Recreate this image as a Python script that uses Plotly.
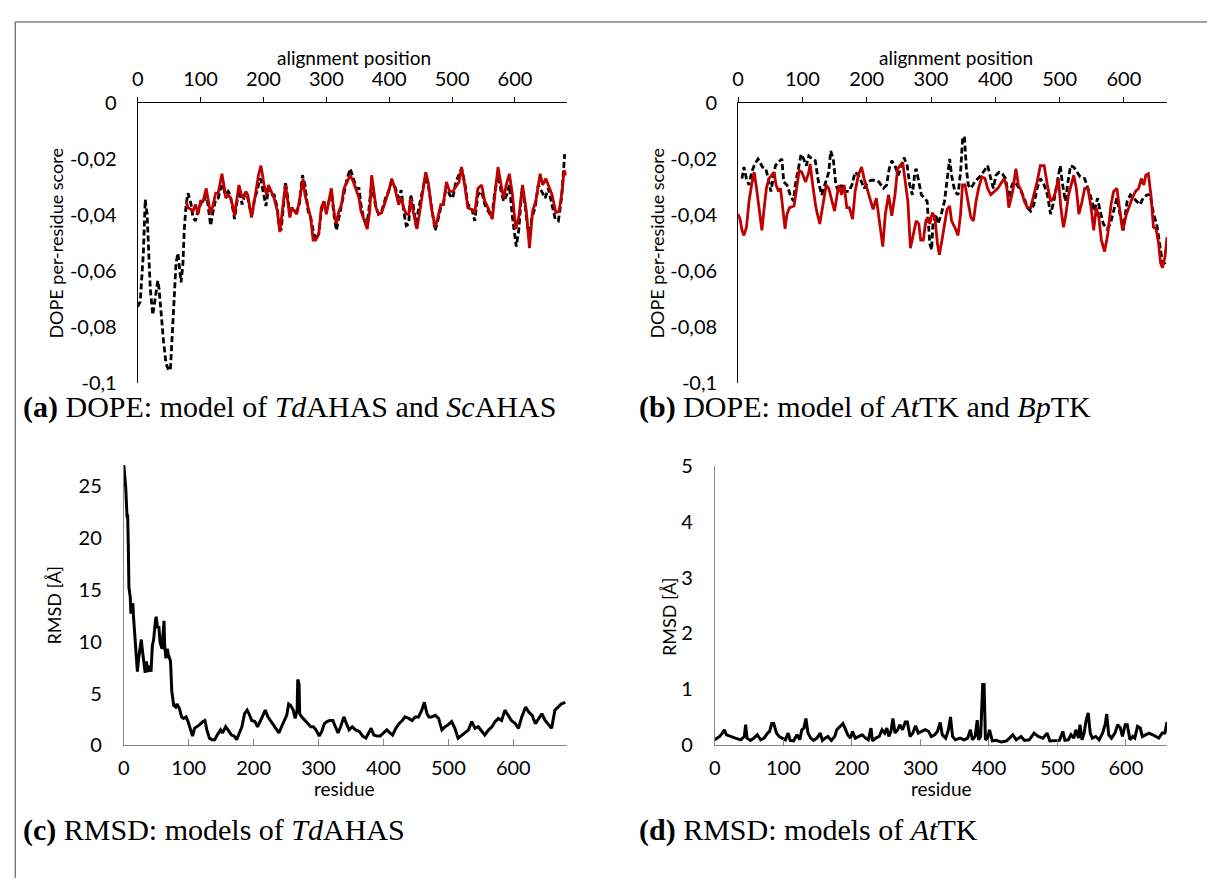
import plotly.graph_objects as go

W, H = 1215, 881

# ---------------- data ----------------
# (a) DOPE per-residue score vs alignment position
a_black_x = [0, 4, 9, 12, 15, 17, 20, 24, 26, 29, 32, 34, 37, 41, 45, 49, 52, 55, 58, 61, 64, 66, 69, 72, 74, 77, 80, 85, 88, 92, 96,
             102, 106, 109, 113, 116, 120, 124, 128, 132, 136, 139, 144, 147, 152, 154, 158, 162, 166, 170, 174, 178, 182, 186, 190,
             194, 196, 201, 204, 208, 212, 217, 222, 225, 228, 232, 235, 238, 242, 245, 249, 253, 257, 262, 266, 271, 275, 279, 283,
             288, 292, 296, 300, 304, 308, 312, 316, 320, 324, 328, 333, 338, 343, 348, 352, 355, 359, 364, 367, 371, 375, 379, 383,
             388, 394, 399, 404, 409, 415, 419, 423, 427, 431, 434, 438, 443, 446, 452, 457, 462, 467, 473, 476, 482, 486, 491, 496,
             501, 506, 511, 515, 520, 525, 531, 536, 541, 547, 552, 557, 563, 568, 573, 578, 582, 587, 591, 596, 602, 606, 611, 616,
             622, 627, 632, 637, 643, 648, 653, 658, 664, 669, 674, 679]
a_black_y = [-0.0728, -0.0710, -0.0537, -0.0345, -0.0397, -0.0537, -0.0664, -0.0757, -0.0722, -0.0676, -0.0635, -0.0664, -0.0757,
             -0.0849, -0.0930, -0.0954, -0.0954, -0.0826, -0.0664, -0.0571, -0.0537, -0.0583, -0.0641, -0.0571, -0.0455, -0.0363,
             -0.0322, -0.0363, -0.0409, -0.0421, -0.0386, -0.0351, -0.0351, -0.0316, -0.0386, -0.0438, -0.0386, -0.0345, -0.0340,
             -0.0305, -0.0293, -0.0328, -0.0316, -0.0328, -0.0386, -0.0415, -0.0351, -0.0311, -0.0363, -0.0328, -0.0328, -0.0374,
             -0.0397, -0.0340, -0.0316, -0.0270, -0.0276, -0.0328, -0.0368, -0.0305, -0.0328, -0.0328, -0.0374, -0.0444, -0.0455,
             -0.0363, -0.0282, -0.0328, -0.0403, -0.0374, -0.0386, -0.0386, -0.0363, -0.0258, -0.0293, -0.0386, -0.0409, -0.0455,
             -0.0490, -0.0467, -0.0386, -0.0351, -0.0386, -0.0351, -0.0316, -0.0397, -0.0455, -0.0409, -0.0363, -0.0316, -0.0270,
             -0.0235, -0.0270, -0.0305, -0.0305, -0.0363, -0.0409, -0.0432, -0.0397, -0.0305, -0.0328, -0.0374, -0.0397, -0.0386,
             -0.0340, -0.0316, -0.0282, -0.0299, -0.0340, -0.0311, -0.0386, -0.0438, -0.0432, -0.0328, -0.0363, -0.0444, -0.0386,
             -0.0328, -0.0270, -0.0293, -0.0374, -0.0455, -0.0432, -0.0374, -0.0363, -0.0293, -0.0328, -0.0340, -0.0282, -0.0258,
             -0.0235, -0.0282, -0.0363, -0.0374, -0.0421, -0.0328, -0.0316, -0.0363, -0.0386, -0.0409, -0.0316, -0.0258, -0.0316,
             -0.0351, -0.0328, -0.0293, -0.0409, -0.0513, -0.0455, -0.0305, -0.0363, -0.0479, -0.0409, -0.0374, -0.0293, -0.0316,
             -0.0340, -0.0305, -0.0351, -0.0415, -0.0421, -0.0340, -0.0183]

a_red_x = [77, 80, 85, 88, 92, 96, 100, 104, 109, 113, 116, 120, 124, 128, 131, 134, 137, 140, 144, 148, 152, 154, 158, 161, 165,
           168, 172, 175, 181, 184, 188, 192, 196, 201, 205, 208, 212, 217, 222, 226, 230, 235, 238, 242, 245, 249, 253, 257, 263,
           266, 271, 275, 279, 283, 288, 292, 296, 300, 304, 308, 312, 316, 320, 324, 328, 333, 338, 343, 348, 352, 355, 361, 365,
           369, 372, 375, 379, 383, 388, 394, 399, 404, 409, 415, 419, 423, 427, 431, 434, 438, 444, 448, 453, 458, 462, 467, 473,
           476, 482, 486, 491, 496, 501, 506, 511, 515, 520, 525, 531, 536, 541, 547, 552, 557, 564, 568, 573, 578, 582, 586, 591,
           596, 601, 606, 612, 618, 623, 628, 633, 640, 644, 649, 654, 659, 665, 670, 675, 678, 682]
a_red_y = [-0.0351, -0.0374, -0.0380, -0.0386, -0.0363, -0.0397, -0.0351, -0.0351, -0.0305, -0.0363, -0.0397, -0.0363, -0.0322,
           -0.0322, -0.0293, -0.0253, -0.0293, -0.0340, -0.0328, -0.0340, -0.0374, -0.0403, -0.0340, -0.0293, -0.0328, -0.0340,
           -0.0316, -0.0328, -0.0409, -0.0374, -0.0316, -0.0258, -0.0224, -0.0293, -0.0328, -0.0293, -0.0316, -0.0340, -0.0386,
           -0.0461, -0.0386, -0.0293, -0.0340, -0.0409, -0.0374, -0.0386, -0.0397, -0.0351, -0.0270, -0.0328, -0.0374, -0.0409,
           -0.0490, -0.0490, -0.0467, -0.0374, -0.0351, -0.0397, -0.0351, -0.0305, -0.0386, -0.0432, -0.0386, -0.0363, -0.0305,
           -0.0282, -0.0258, -0.0282, -0.0316, -0.0340, -0.0386, -0.0421, -0.0450, -0.0386, -0.0258, -0.0305, -0.0374, -0.0397,
           -0.0392, -0.0351, -0.0316, -0.0270, -0.0305, -0.0363, -0.0340, -0.0374, -0.0397, -0.0397, -0.0340, -0.0386, -0.0450,
           -0.0397, -0.0328, -0.0247, -0.0282, -0.0374, -0.0444, -0.0421, -0.0363, -0.0363, -0.0282, -0.0316, -0.0316, -0.0299,
           -0.0282, -0.0229, -0.0293, -0.0374, -0.0380, -0.0392, -0.0305, -0.0293, -0.0351, -0.0374, -0.0415, -0.0328, -0.0229,
           -0.0293, -0.0340, -0.0293, -0.0253, -0.0328, -0.0450, -0.0409, -0.0293, -0.0386, -0.0519, -0.0386, -0.0351, -0.0253,
           -0.0293, -0.0270, -0.0299, -0.0328, -0.0392, -0.0386, -0.0316, -0.0241, -0.0258]

# (b) DOPE per-residue score vs alignment position
b_black_x = [6, 9, 13, 17, 21, 26, 31, 38, 43, 47, 51, 54, 58, 62, 68, 71, 76, 81, 86, 89, 93, 98, 102, 106, 110, 115, 120, 125,
             130, 136, 141, 144, 148, 152, 156, 161, 166, 172, 177, 182, 187, 192, 196, 202, 207, 213, 219, 226, 231, 235, 239, 244,
             249, 254, 258, 263, 267, 271, 275, 277, 281, 285, 290, 294, 298, 301, 303, 307, 311, 316, 321, 326, 329, 332, 337, 342,
             346, 349, 352, 355, 358, 362, 368, 373, 378, 383, 388, 393, 397, 401, 406, 411, 416, 421, 426, 429, 434, 440, 445, 450,
             455, 460, 465, 470, 476, 481, 486, 491, 496, 501, 504, 509, 513, 517, 522, 527, 532, 539, 544, 549, 554, 559, 563, 568,
             574, 579, 584, 589, 594, 599, 605, 610, 615, 620, 625, 630, 636, 641, 646, 651, 656, 660, 664, 667]
b_black_y = [-0.0270, -0.0229, -0.0270, -0.0293, -0.0247, -0.0218, -0.0200, -0.0229, -0.0235, -0.0270, -0.0316, -0.0270, -0.0224,
             -0.0212, -0.0200, -0.0282, -0.0293, -0.0328, -0.0351, -0.0293, -0.0247, -0.0183, -0.0200, -0.0224, -0.0189, -0.0200,
             -0.0206, -0.0282, -0.0328, -0.0282, -0.0247, -0.0171, -0.0200, -0.0293, -0.0316, -0.0293, -0.0316, -0.0316, -0.0293,
             -0.0247, -0.0258, -0.0282, -0.0305, -0.0282, -0.0276, -0.0276, -0.0282, -0.0305, -0.0293, -0.0235, -0.0206, -0.0224,
             -0.0258, -0.0224, -0.0195, -0.0224, -0.0293, -0.0328, -0.0247, -0.0235, -0.0282, -0.0328, -0.0340, -0.0351, -0.0502,
             -0.0525, -0.0432, -0.0397, -0.0432, -0.0397, -0.0351, -0.0247, -0.0200, -0.0258, -0.0316, -0.0328, -0.0247, -0.0131,
             -0.0119, -0.0235, -0.0293, -0.0305, -0.0282, -0.0270, -0.0258, -0.0241, -0.0224, -0.0270, -0.0305, -0.0258, -0.0247,
             -0.0253, -0.0270, -0.0340, -0.0293, -0.0282, -0.0293, -0.0316, -0.0340, -0.0374, -0.0386, -0.0363, -0.0305, -0.0270,
             -0.0293, -0.0328, -0.0397, -0.0351, -0.0293, -0.0224, -0.0282, -0.0351, -0.0282, -0.0224, -0.0229, -0.0247, -0.0264,
             -0.0270, -0.0305, -0.0340, -0.0386, -0.0340, -0.0386, -0.0432, -0.0450, -0.0432, -0.0386, -0.0340, -0.0397, -0.0455,
             -0.0351, -0.0328, -0.0340, -0.0351, -0.0363, -0.0340, -0.0328, -0.0328, -0.0397, -0.0432, -0.0513, -0.0571, -0.0571,
             -0.0560]

b_red_x = [0, 3, 6, 9, 13, 17, 21, 25, 28, 32, 37, 40, 44, 48, 52, 56, 59, 63, 66, 70, 73, 76, 80, 87, 92, 95, 99, 105, 110, 112,
           116, 121, 127, 131, 137, 141, 146, 150, 154, 157, 161, 165, 169, 173, 178, 182, 187, 192, 196, 202, 207, 210, 215, 221,
           225, 229, 234, 239, 244, 248, 252, 256, 260, 264, 268, 272, 277, 281, 284, 288, 292, 295, 298, 302, 306, 310, 313, 317,
           321, 325, 329, 332, 337, 342, 346, 349, 353, 357, 362, 366, 370, 374, 379, 384, 388, 393, 398, 404, 410, 414, 418, 421,
           427, 432, 436, 441, 445, 450, 455, 460, 465, 470, 476, 481, 486, 490, 494, 498, 502, 506, 509, 514, 518, 522, 526, 530,
           535, 539, 544, 549, 553, 557, 561, 565, 570, 575, 580, 584, 589, 593, 598, 604, 609, 613, 618, 623, 627, 631, 634, 638,
           642, 646, 650, 654, 657, 660, 664, 667]
b_red_y = [-0.0397, -0.0415, -0.0455, -0.0473, -0.0444, -0.0351, -0.0293, -0.0247, -0.0293, -0.0374, -0.0455, -0.0386, -0.0305,
           -0.0270, -0.0258, -0.0247, -0.0293, -0.0316, -0.0305, -0.0397, -0.0450, -0.0397, -0.0374, -0.0368, -0.0282, -0.0241,
           -0.0247, -0.0282, -0.0247, -0.0218, -0.0293, -0.0374, -0.0432, -0.0374, -0.0293, -0.0305, -0.0351, -0.0386, -0.0328,
           -0.0293, -0.0328, -0.0293, -0.0374, -0.0374, -0.0415, -0.0316, -0.0258, -0.0229, -0.0270, -0.0316, -0.0363, -0.0380,
           -0.0340, -0.0455, -0.0513, -0.0397, -0.0328, -0.0403, -0.0328, -0.0235, -0.0224, -0.0212, -0.0282, -0.0351, -0.0519,
           -0.0479, -0.0421, -0.0432, -0.0490, -0.0490, -0.0421, -0.0409, -0.0432, -0.0392, -0.0409, -0.0502, -0.0542, -0.0490,
           -0.0432, -0.0380, -0.0368, -0.0421, -0.0444, -0.0473, -0.0397, -0.0293, -0.0293, -0.0340, -0.0409, -0.0421, -0.0351,
           -0.0305, -0.0264, -0.0270, -0.0305, -0.0328, -0.0316, -0.0305, -0.0282, -0.0270, -0.0305, -0.0374, -0.0316, -0.0235,
           -0.0293, -0.0316, -0.0351, -0.0374, -0.0374, -0.0328, -0.0282, -0.0224, -0.0224, -0.0293, -0.0351, -0.0340, -0.0316,
           -0.0270, -0.0374, -0.0444, -0.0409, -0.0328, -0.0293, -0.0258, -0.0305, -0.0397, -0.0351, -0.0305, -0.0305, -0.0374,
           -0.0455, -0.0374, -0.0409, -0.0490, -0.0531, -0.0467, -0.0363, -0.0316, -0.0305, -0.0374, -0.0455, -0.0397, -0.0363,
           -0.0340, -0.0316, -0.0305, -0.0270, -0.0293, -0.0258, -0.0253, -0.0328, -0.0444, -0.0450, -0.0502, -0.0571, -0.0589,
           -0.0548, -0.0479]

# (c) RMSD of TdAHAS models vs residue
c_x = [0, 3, 5, 6, 7, 8, 10, 11, 12, 14, 15, 17, 19, 21, 23, 25, 27, 29, 31, 33, 35, 37, 40, 42, 44, 46, 49, 50, 52, 54, 56, 59,
       62, 63, 65, 67, 69, 72, 74, 77, 80, 82, 86, 89, 92, 96, 99, 103, 106, 109, 113, 117, 122, 125, 128, 132, 136, 140, 144,
       149, 152, 157, 162, 166, 170, 174, 178, 182, 186, 190, 193, 197, 202, 206, 210, 214, 218, 222, 226, 231, 234, 239, 243,
       247, 251, 254, 257, 261, 264, 267, 268, 270, 271, 274, 279, 283, 288, 292, 296, 301, 305, 309, 313, 317, 322, 326, 330,
       334, 339, 343, 347, 352, 357, 363, 368, 373, 377, 381, 385, 390, 395, 400, 405, 410, 414, 419, 424, 429, 433, 439, 444,
       449, 454, 459, 463, 467, 470, 474, 480, 485, 490, 495, 500, 505, 510, 515, 521, 526, 531, 536, 541, 546, 551, 556, 562,
       567, 572, 577, 582, 587, 592, 597, 603, 608, 613, 619, 624, 629, 634, 640, 644, 649, 654, 659, 664, 669, 674, 680]
c_y = [27.0, 24.9, 22.1, 22.1, 19.3, 15.2, 14.3, 12.7, 13.4, 13.7, 12.4, 10.9, 8.7, 7.1, 8.4, 9.6, 10.2, 9.0, 8.1, 7.0, 8.1, 7.1,
       7.7, 7.1, 9.6, 10.2, 12.1, 12.4, 11.3, 11.5, 9.9, 9.3, 12.0, 9.6, 8.4, 9.3, 8.7, 8.1, 5.2, 3.85, 3.7, 4.0, 3.5, 2.75, 2.6,
       2.75, 2.3, 1.5, 0.9, 1.65, 1.8, 2.0, 2.3, 2.4, 1.5, 0.7, 0.55, 0.55, 1.0, 1.5, 1.2, 1.8, 1.35, 1.0, 0.9, 0.55, 1.2, 1.8,
       3.05, 3.4, 3.05, 2.4, 2.3, 1.8, 2.3, 2.9, 3.4, 2.75, 2.4, 2.0, 1.65, 1.2, 1.8, 2.3, 2.9, 4.0, 3.85, 3.4, 2.6, 3.4, 6.35,
       5.9, 3.05, 2.75, 2.4, 2.1, 1.8, 1.8, 1.5, 0.9, 1.35, 2.1, 2.3, 2.4, 2.4, 1.8, 1.2, 1.8, 2.75, 2.1, 1.5, 1.8, 1.5, 1.35, 0.9,
       0.7, 1.2, 1.65, 1.0, 0.9, 0.9, 1.2, 1.5, 1.2, 1.0, 1.65, 2.1, 2.4, 2.75, 2.6, 2.4, 2.75, 2.75, 3.4, 4.15, 3.05, 2.75, 2.75,
       2.9, 2.6, 1.5, 1.8, 2.0, 2.3, 1.65, 0.7, 1.0, 1.2, 1.5, 2.3, 1.65, 1.8, 1.35, 1.0, 1.5, 1.8, 2.3, 2.6, 2.4, 3.4, 2.9, 2.4,
       2.1, 1.65, 2.75, 3.7, 3.2, 2.9, 2.1, 2.75, 3.05, 2.4, 2.0, 1.65, 3.4, 3.7, 4.0, 4.15, 3.5]

# (d) RMSD of AtTK models vs residue
d_x = [0, 4, 7, 11, 14, 17, 23, 30, 38, 43, 45, 47, 52, 57, 62, 67, 72, 77, 80, 83, 86, 90, 94, 99, 103, 107, 110, 115, 120, 124,
       127, 130, 133, 136, 140, 144, 149, 154, 157, 161, 165, 170, 175, 178, 183, 187, 190, 194, 198, 201, 205, 210, 215, 220,
       224, 228, 230, 235, 240, 244, 248, 251, 254, 257, 260, 263, 267, 270, 274, 278, 281, 285, 289, 293, 297, 302, 307, 312,
       316, 321, 325, 329, 332, 337, 341, 344, 347, 351, 358, 364, 369, 373, 376, 380, 383, 385, 388, 391, 393, 395, 398, 401,
       405, 411, 418, 426, 430, 435, 440, 443, 447, 452, 459, 466, 472, 479, 485, 489, 496, 503, 508, 511, 516, 520, 524, 527,
       531, 533, 536, 539, 542, 545, 548, 551, 556, 561, 566, 570, 572, 575, 579, 584, 588, 592, 595, 599, 602, 606, 610, 613,
       617, 621, 624, 629, 634, 639, 644, 648, 653, 657, 660]
d_y = [0.10, 0.13, 0.16, 0.22, 0.28, 0.19, 0.16, 0.13, 0.10, 0.16, 0.37, 0.13, 0.09, 0.13, 0.19, 0.10, 0.13, 0.22, 0.25, 0.39,
       0.39, 0.22, 0.16, 0.13, 0.10, 0.22, 0.09, 0.08, 0.19, 0.10, 0.28, 0.31, 0.48, 0.22, 0.13, 0.09, 0.13, 0.22, 0.09, 0.13,
       0.16, 0.09, 0.16, 0.28, 0.34, 0.39, 0.31, 0.19, 0.13, 0.25, 0.13, 0.16, 0.19, 0.13, 0.10, 0.31, 0.08, 0.13, 0.16, 0.28,
       0.22, 0.31, 0.16, 0.25, 0.48, 0.22, 0.28, 0.37, 0.28, 0.42, 0.42, 0.16, 0.22, 0.35, 0.22, 0.25, 0.28, 0.25, 0.16, 0.19,
       0.25, 0.41, 0.19, 0.13, 0.28, 0.51, 0.16, 0.10, 0.13, 0.10, 0.13, 0.28, 0.10, 0.16, 0.45, 0.10, 0.16, 1.09, 1.09, 0.10,
       0.13, 0.28, 0.08, 0.09, 0.06, 0.08, 0.13, 0.19, 0.10, 0.13, 0.16, 0.09, 0.10, 0.22, 0.16, 0.13, 0.22, 0.08, 0.08, 0.09,
       0.25, 0.09, 0.10, 0.19, 0.13, 0.28, 0.13, 0.37, 0.10, 0.22, 0.45, 0.58, 0.22, 0.13, 0.16, 0.10, 0.22, 0.39, 0.56, 0.19,
       0.13, 0.22, 0.37, 0.31, 0.16, 0.37, 0.37, 0.10, 0.16, 0.13, 0.34, 0.31, 0.16, 0.19, 0.22, 0.19, 0.16, 0.13, 0.22, 0.22,
       0.42]

# ticks / labels
dope_tickvals = [0, -0.02, -0.04, -0.06, -0.08, -0.1]
dope_ticktext = ["0", "-0,02", "-0,04", "-0,06", "-0,08", "-0,1"]
pos_tickvals = [0, 100, 200, 300, 400, 500, 600]
pos_ticktext = ["0", "100", "200", "300", "400", "500", "600"]
c_tickvals = [0, 5, 10, 15, 20, 25]
d_tickvals = [0, 1, 2, 3, 4, 5]

captions = [
    "<b>(a)</b> DOPE: model of <i>Td</i>AHAS and <i>Sc</i>AHAS",
    "<b>(b)</b> DOPE: model of <i>At</i>TK and <i>Bp</i>TK",
    "<b>(c)</b> RMSD: models of <i>Td</i>AHAS",
    "<b>(d)</b> RMSD: models of <i>At</i>TK",
]

# ---------------- figure ----------------
RED = "#C00000"
SANS = "Lato"
SERIF = "Liberation Serif"
TICKFONT = dict(family=SANS, size=20, color="#000000")
OFF = 8  # page body margin compensation


def px(x):
    return (x - OFF) / W


def py(y):
    return 1 - (y - OFF) / H


fig = go.Figure()
dash_line = dict(color="#000000", width=2.8, dash="6px,3px")
red_line = dict(color=RED, width=2.8)
blk_line = dict(color="#000000", width=3)

fig.add_trace(go.Scatter(x=a_black_x, y=a_black_y, mode="lines", line=dash_line, xaxis="x", yaxis="y"))
fig.add_trace(go.Scatter(x=a_red_x, y=a_red_y, mode="lines", line=red_line, xaxis="x", yaxis="y"))
fig.add_trace(go.Scatter(x=b_black_x, y=b_black_y, mode="lines", line=dash_line, xaxis="x2", yaxis="y2"))
fig.add_trace(go.Scatter(x=b_red_x, y=b_red_y, mode="lines", line=red_line, xaxis="x2", yaxis="y2"))
fig.add_trace(go.Scatter(x=c_x, y=c_y, mode="lines", line=blk_line, xaxis="x3", yaxis="y3"))
fig.add_trace(go.Scatter(x=d_x, y=d_y, mode="lines", line=blk_line, xaxis="x4", yaxis="y4"))

top_x = dict(side="top", showline=True, linecolor="#000000", linewidth=1, ticks="outside", ticklen=5,
             tickcolor="#000000", tickvals=pos_tickvals, ticktext=pos_ticktext, showgrid=False, zeroline=False,
             tickfont=TICKFONT, ticklabelstandoff=3)
dope_y = dict(range=[-0.1, 0], showline=True, linecolor="#000000", linewidth=1, ticks="", tickvals=dope_tickvals,
              ticktext=dope_ticktext, showgrid=False, zeroline=False, tickfont=TICKFONT, ticklabelstandoff=16)
bot_x = dict(side="bottom", showline=True, linecolor="#868686", linewidth=1, ticks="inside", ticklen=6,
             tickcolor="#868686", tickvals=pos_tickvals, ticktext=pos_ticktext, showgrid=False, zeroline=False,
             tickfont=TICKFONT, ticklabelstandoff=5)
rmsd_y = dict(showline=True, linecolor="#868686", linewidth=1, ticks="", showgrid=False, zeroline=False,
              tickfont=TICKFONT, ticklabelstandoff=17)

fig.update_layout(
    width=W, height=H, margin=dict(l=0, r=0, t=0, b=0),
    paper_bgcolor="white", plot_bgcolor="rgba(0,0,0,0)", showlegend=False,
    xaxis=dict(top_x, domain=[px(132.3), px(563.3)], range=[0, 682], anchor="y"),
    yaxis=dict(dope_y, domain=[py(380), py(92.3)], anchor="x"),
    xaxis2=dict(top_x, domain=[px(735.7), px(1166.7)], range=[0, 667], anchor="y2"),
    yaxis2=dict(dope_y, domain=[py(380), py(92.3)], anchor="x2"),
    xaxis3=dict(bot_x, domain=[px(118.3), px(563.3)], range=[0, 682], anchor="y3"),
    yaxis3=dict(rmsd_y, domain=[py(752.7), py(464)], range=[0, 27.06], tickvals=c_tickvals,
                ticktext=[str(v) for v in c_tickvals], anchor="x3"),
    xaxis4=dict(bot_x, domain=[px(712.3), px(1166.7)], range=[0, 660], anchor="y4"),
    yaxis4=dict(rmsd_y, domain=[py(752.7), py(465)], range=[0, 5], tickvals=d_tickvals,
                ticktext=[str(v) for v in d_tickvals], anchor="x4"),
)

ann = []
TITLEFONT = dict(family=SANS, size=19, color="#000000")
YTFONT = dict(family=SANS, size=18, color="#000000")
ann.append(dict(text="alignment position", x=px(350), y=py(46), font=TITLEFONT))
ann.append(dict(text="alignment position", x=px(955), y=py(46), font=TITLEFONT))
ann.append(dict(text="DOPE per-residue score", x=px(50), y=py(236), textangle=-90, font=YTFONT))
ann.append(dict(text="DOPE per-residue score", x=px(654), y=py(236), textangle=-90, font=YTFONT))
ann.append(dict(text="RMSD [Å]", x=px(48), y=py(608), textangle=-90, font=YTFONT))
ann.append(dict(text="RMSD [Å]", x=px(667), y=py(620), textangle=-90, font=YTFONT))
ann.append(dict(text="residue", x=px(340), y=py(797), font=TITLEFONT))
ann.append(dict(text="residue", x=px(940), y=py(797), font=TITLEFONT))
CAPFONT = dict(family=SERIF, size=30, color="#000000")
cap_pos = [(15, 405), (634, 405), (15, 840), (634, 840)]
for txt, (cx, cy) in zip(captions, cap_pos):
    ann.append(dict(text=txt, x=px(cx), y=py(cy), xanchor="left", font=CAPFONT))
for a in ann:
    a.update(xref="paper", yref="paper", showarrow=False)
    a.setdefault("xanchor", "center")
    a.setdefault("yanchor", "middle")
fig.update_layout(annotations=ann)

fig.update_layout(shapes=[
    dict(type="line", xref="paper", yref="paper", x0=0.001, x1=1, y0=py(9), y1=py(9),
         line=dict(color="#404040", width=1)),
    dict(type="line", xref="paper", yref="paper", x0=0.001, x1=0.001, y0=py(9), y1=0,
         line=dict(color="#404040", width=1)),
])

fig.write_html("out.html")
